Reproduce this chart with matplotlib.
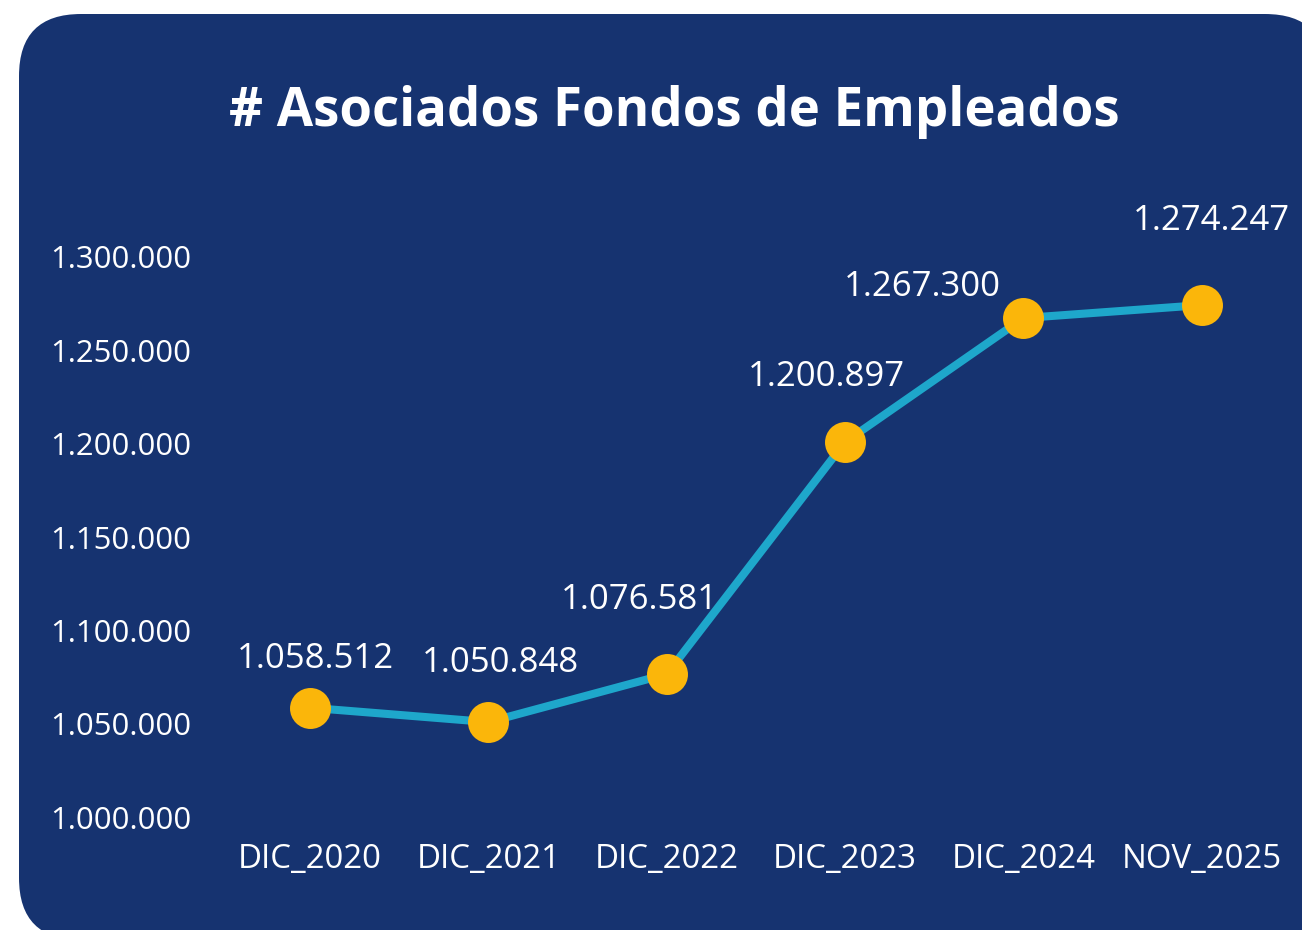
import matplotlib
matplotlib.use("Agg")
import matplotlib.pyplot as plt
from matplotlib.patches import FancyBboxPatch
from matplotlib.ticker import FuncFormatter

categories = ["DIC_2020", "DIC_2021", "DIC_2022", "DIC_2023", "DIC_2024", "NOV_2025"]
values = [1058512, 1050848, 1076581, 1200897, 1267300, 1274247]
yticks = [1000000, 1050000, 1100000, 1150000, 1200000, 1250000, 1300000]
title = "# Asociados Fondos de Empleados"

# label offsets in pixels (dx, dy) relative to each point
label_offsets = [(5, 49), (12, 59), (-27, 74), (-19, 65), (-101, 31), (10, 84)]

W, H, DPI = 1302, 930, 100
BG = "#163370"
LINE = "#1ea7cb"
MARK = "#fbb60a"

plt.rcParams["font.family"] = ["Open Sans", "DejaVu Sans"]

fig = plt.figure(figsize=(W / DPI, H / DPI), dpi=DPI)
fig.patch.set_facecolor("white")

# rounded card
px = lambda v: v / DPI
card = FancyBboxPatch((px(19), px(H - 940)), px(1327 - 19), px(940 - 14),
                      boxstyle=f"round,pad=0,rounding_size={px(62)}",
                      transform=fig.dpi_scale_trans, facecolor=BG, edgecolor="none",
                      zorder=-5)
fig.patches.append(card)

fig.text(674 / W, 1 - 112 / H, title, color="white", fontsize=38, fontweight="bold",
         ha="center", va="center", zorder=5)

# axes: x -0.5..5.5 -> 221..1291 px ; y 1.0M..1.3M -> 817..257 px
ax = fig.add_axes([221 / W, (H - 817) / H, (1291 - 221) / W, (817 - 257) / H])
ax.set_zorder(2)
ax.set_facecolor("none")
x = list(range(len(categories)))
ax.plot(x, values, color=LINE, lw=5.8, zorder=2, clip_on=False, solid_capstyle="round")
ax.plot(x, values, "o", color=MARK, markersize=29.5, markeredgewidth=0, zorder=3, clip_on=False)
ax.set_xlim(-0.5, 5.5)
ax.set_ylim(1000000, 1300000)
ax.set_xticks(x)
ax.set_xticklabels(categories)
ax.set_yticks(yticks)
ax.yaxis.set_major_formatter(FuncFormatter(lambda v, p: f"{int(v):,}".replace(",", ".")))
ax.tick_params(axis="y", length=0, pad=21.5, labelsize=22.4, labelcolor="white")
ax.tick_params(axis="x", length=0, pad=19, labelsize=23.8, labelcolor="white")
for s in ax.spines.values():
    s.set_visible(False)

for xi, v, (dx, dy) in zip(x, values, label_offsets):
    ax.annotate(f"{v:,}".replace(",", "."), (xi, v), xytext=(dx * 0.72, dy * 0.72),
                textcoords="offset points", ha="center", va="center",
                color="white", fontsize=25, annotation_clip=False)

fig.savefig("out.png", dpi=DPI, facecolor="white")
